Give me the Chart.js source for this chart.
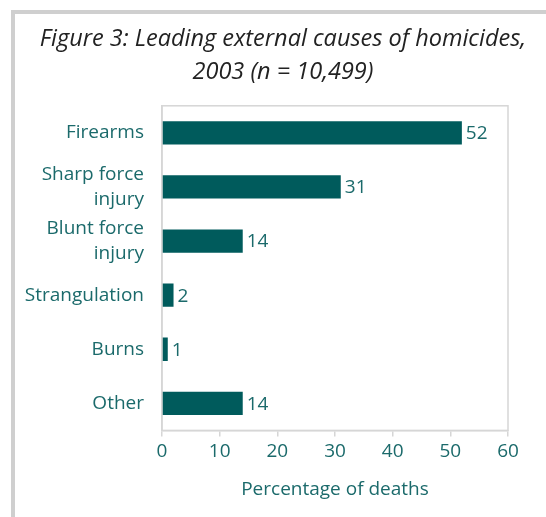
<!DOCTYPE html>
<html>
<head>
<meta charset="utf-8">
<script src="https://cdn.jsdelivr.net/npm/chart.js@4/dist/chart.umd.min.js"></script>
<style>
  body { margin: 0; background: #fff; }
  #wrap { position: relative; width: 546px; height: 517px; }
  #frame { position: absolute; left: 11px; top: 10px; right: 0; bottom: 0;
           border-left: 4px solid #cfcfcf; border-top: 4px solid #cfcfcf; }
  canvas { position: absolute; left: 0; top: 0; }
</style>
</head>
<body>
<div id="wrap">
  <div id="frame"></div>
  <canvas id="myChart" width="546" height="517"></canvas>
</div>
<script>
var causes = [['Firearms'], ['Sharp force', 'injury'], ['Blunt force', 'injury'], ['Strangulation'], ['Burns'], ['Other']];
var percentages = [52, 31, 14, 2, 1, 14];
var xTicks = [0, 10, 20, 30, 40, 50, 60];

var teal = '#005b5c';
var textTeal = '#1b6a6b';
var fontName = 'Open Sans';
var ctx = document.getElementById('myChart').getContext('2d');

// valores al final de cada barra
var valueLabels = {
    id: 'valueLabels',
    afterDatasetsDraw: function(chart){
        var c = chart.ctx;
        var meta = chart.getDatasetMeta(0);
        c.save();
        c.font = '19px "' + fontName + '"';
        c.fillStyle = textTeal;
        c.textAlign = 'left';
        c.textBaseline = 'middle';
        meta.data.forEach(function(bar, i){
            c.fillText(percentages[i], bar.x + 4, bar.y + 1);
        });
        c.restore();
    }
};

// caja gris alrededor del area
var plotBox = {
    id: 'plotBox',
    beforeDatasetsDraw: function(chart){
        var a = chart.chartArea;
        var c = chart.ctx;
        c.save();
        c.strokeStyle = '#d6d6d6';
        c.lineWidth = 1.5;
        c.strokeRect(a.left, a.top, a.right - a.left, a.bottom - a.top);
        c.restore();
    }
};

var myChart = new Chart(ctx, {
    type: 'bar',
    data: {
        labels: causes,
        datasets: [{
            data: percentages,
            backgroundColor: teal,
            borderWidth: 0,
            barPercentage: 0.43,
            categoryPercentage: 1
        }]
    },
    plugins: [plotBox, valueLabels],
    options: {
        indexAxis: 'y',
        responsive: false,
        animation: false,
        layout: { padding: { left: 20, right: 0, top: 0, bottom: 0 } },
        scales: {
            x: {
                min: 0,
                max: 60,
                afterBuildTicks: function(scale){
                    scale.ticks = xTicks.map(function(v){ return {value: v}; });
                },
                grid: { drawOnChartArea: false, color: '#d6d6d6', lineWidth: 1.5, tickLength: 6 },
                border: { color: '#d6d6d6', width: 1.5 },
                ticks: { color: textTeal, font: { family: fontName, size: 19 }, padding: 4, maxRotation: 0 },
                title: {
                    display: true,
                    text: 'Percentage of deaths',
                    color: textTeal,
                    font: { family: fontName, size: 19 },
                    padding: { top: 11, bottom: 16 }
                }
            },
            y: {
                afterFit: function(scale){ scale.width = 142; },
                grid: { display: false },
                border: { color: '#d6d6d6', width: 1.5 },
                ticks: { color: textTeal, font: { family: fontName, size: 19, lineHeight: 1.3 }, padding: 10, autoSkip: false }
            },
            // eje vacio a la derecha, solo para dejar margen
            yRight: {
                position: 'right',
                afterFit: function(scale){ scale.width = 38; },
                grid: { display: false },
                border: { display: false },
                ticks: { display: false }
            }
        },
        plugins: {
            legend: { display: false },
            tooltip: { enabled: false },
            title: {
                display: true,
                text: ['Figure 3: Leading external causes of homicides,', '2003 (n = 10,499)'],
                color: '#222222',
                font: { family: fontName, size: 23.5, style: 'italic', weight: 'normal', lineHeight: 1.4 },
                padding: { top: 23, bottom: 17 }
            }
        }
    }
});
</script>
</body>
</html>
